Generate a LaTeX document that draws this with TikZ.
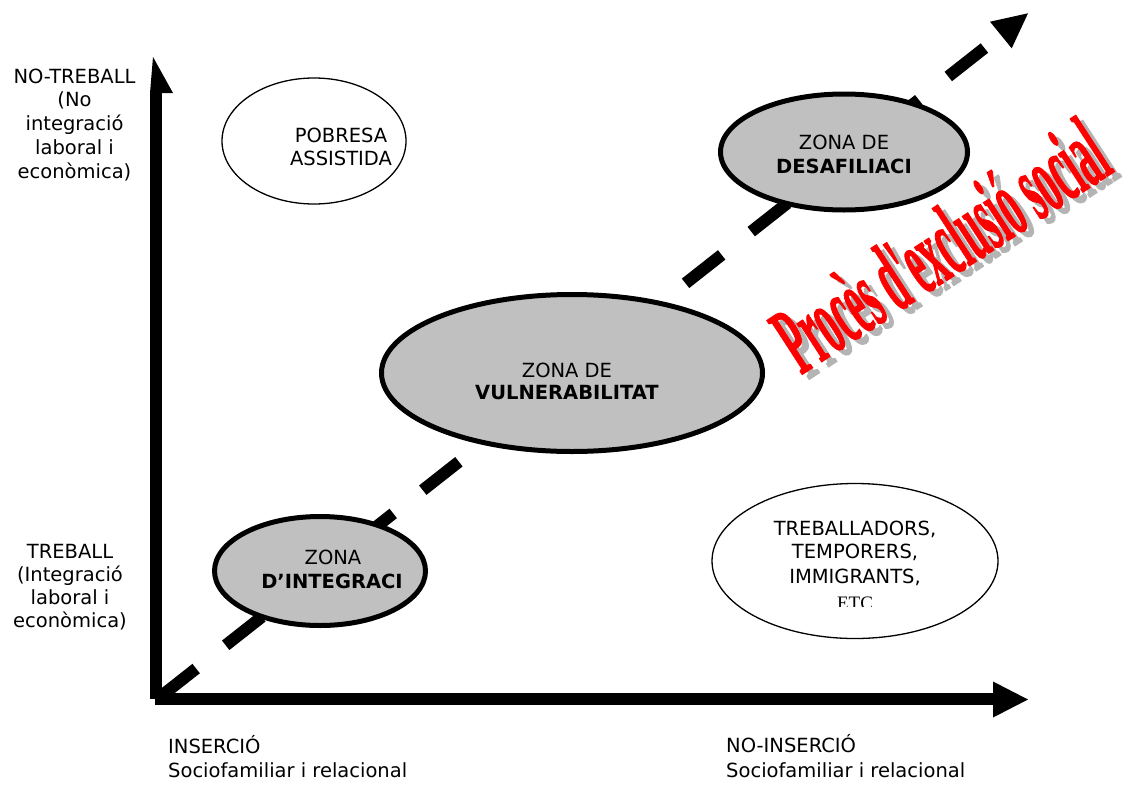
\documentclass[tikz,border=0pt]{standalone}
\usepackage{fontspec}
\setmainfont{DejaVu Sans}
\newfontfamily\wordart[Ligatures=TeXOff,BoldFeatures={FakeBold=1.5}]{Liberation Serif}
\newfontfamily\etcserif{Liberation Serif}
\usetikzlibrary{shapes.geometric}
\definecolor{zonegray}{HTML}{C0C0C0}
\definecolor{shadowgray}{HTML}{B4B4B4}
\definecolor{wordred}{HTML}{FF0000}
\begin{document}
\begin{tikzpicture}[x=1pt,y=-1pt,
  txt/.style={font=\fontsize{19.5}{23}\selectfont, inner sep=0pt, anchor=base},
  zone/.style={ellipse, draw=black, line width=5pt, fill=zonegray, inner sep=0pt},
  group/.style={ellipse, draw=black, line width=1.3pt, fill=white, inner sep=0pt},
  axis/.style={line width=12pt},
  trail/.style={line width=12pt, dash pattern=on 46pt off 37.6pt},
  wordart/.style={anchor=base west, rotate=33, inner sep=0pt,
    font=\wordart\bfseries\fontsize{98}{98}\selectfont}]
\useasboundingbox (0,0) rectangle (1123,784);
\fill[white] (0,0) rectangle (1123,784);

% ---- axes ----
\coordinate (vbase) at (156,699);
\coordinate (vtop) at (156,93);
\coordinate (hbase) at (155,699);
\coordinate (hend) at (993,699);
\draw[axis] (vbase) -- (vtop);
\fill (150,93) -- (153,57) -- (173,93) -- cycle;
\draw[axis] (hbase) -- (hend);
\fill (993,681.5) -- (1028,699.5) -- (993,717.5) -- cycle;

% ---- dashed path of exclusion ----
\coordinate (trailstart) at (160,697);
\coordinate (trailend) at (1001,35);
\draw[trail] (trailstart) -- (trailend);
\fill (990,21.7) -- (1028,13.3) -- (1011.7,48.3) -- cycle;

% ---- zones ----
\node[group, minimum width=184pt, minimum height=126pt] (pobresa) at (314,141) {};
\node[group, minimum width=286pt, minimum height=155pt] (treballadors) at (855,561) {};
\node[zone, minimum width=211pt, minimum height=109pt] (integracio) at (320,571) {};
\node[zone, minimum width=381pt, minimum height=157pt] (vulnerabilitat) at (572,373) {};
\node[zone, minimum width=247pt, minimum height=116pt] (desafiliacio) at (844,152) {};

% ---- zone labels ----
\node[txt] (pob1) at (341,142) {POBRESA};
\node[txt] (pob2) at (341,165) {ASSISTIDA};
\node[txt] (des1) at (844,149) {ZONA DE};
\node[txt] (des2) at (844,173) {\bfseries DESAFILIACI};
\node[txt] (vul1) at (567,377) {ZONA DE};
\node[txt] (vul2) at (567,399) {\bfseries VULNERABILITAT};
\node[txt] (int1) at (333,564) {ZONA};
\node[txt] (int2) at (332,588) {\bfseries D’INTEGRACI};
\node[txt] (tre1) at (855,535) {TREBALLADORS,};
\node[txt] (tre2) at (855,558) {TEMPORERS,};
\node[txt] (tre3) at (855,583) {IMMIGRANTS,};
\begin{scope}
  \clip (700,480) rectangle (1010,606);
  \node[inner sep=0pt, anchor=base, font=\etcserif\fontsize{19}{19}\selectfont] (tre4) at (855,609) {ETC};
\end{scope}

% ---- axis labels ----
\foreach \t [count=\i] in {{NO-TREBALL},{(No},{integració},{laboral i},{econòmica)}}
  \node[txt] (notreball\i) at (74.5,{83+23.8*(\i-1)}) {\t};
\foreach \t [count=\i] in {{TREBALL},{(Integració},{laboral i},{econòmica)}}
  \node[txt] (treball\i) at (70,{558+23*(\i-1)}) {\t};
\node[txt, anchor=base west] (ins1) at (168,753) {INSERCIÓ};
\node[txt, anchor=base west] (ins2) at (168,777) {Sociofamiliar i relacional};
\node[txt, anchor=base west] (noins1) at (726,752) {NO-INSERCIÓ};
\node[txt, anchor=base west] (noins2) at (726,777) {Sociofamiliar i relacional};

% ---- title along the diagonal ----
\node[wordart, text=shadowgray] (titleshadow) at (808,380) {\scalebox{0.385}[1]{Procès d'exclusió social}};
\node[wordart, text=wordred] (title) at (801,375) {\scalebox{0.385}[1]{Procès d'exclusió social}};
\end{tikzpicture}
\end{document}
